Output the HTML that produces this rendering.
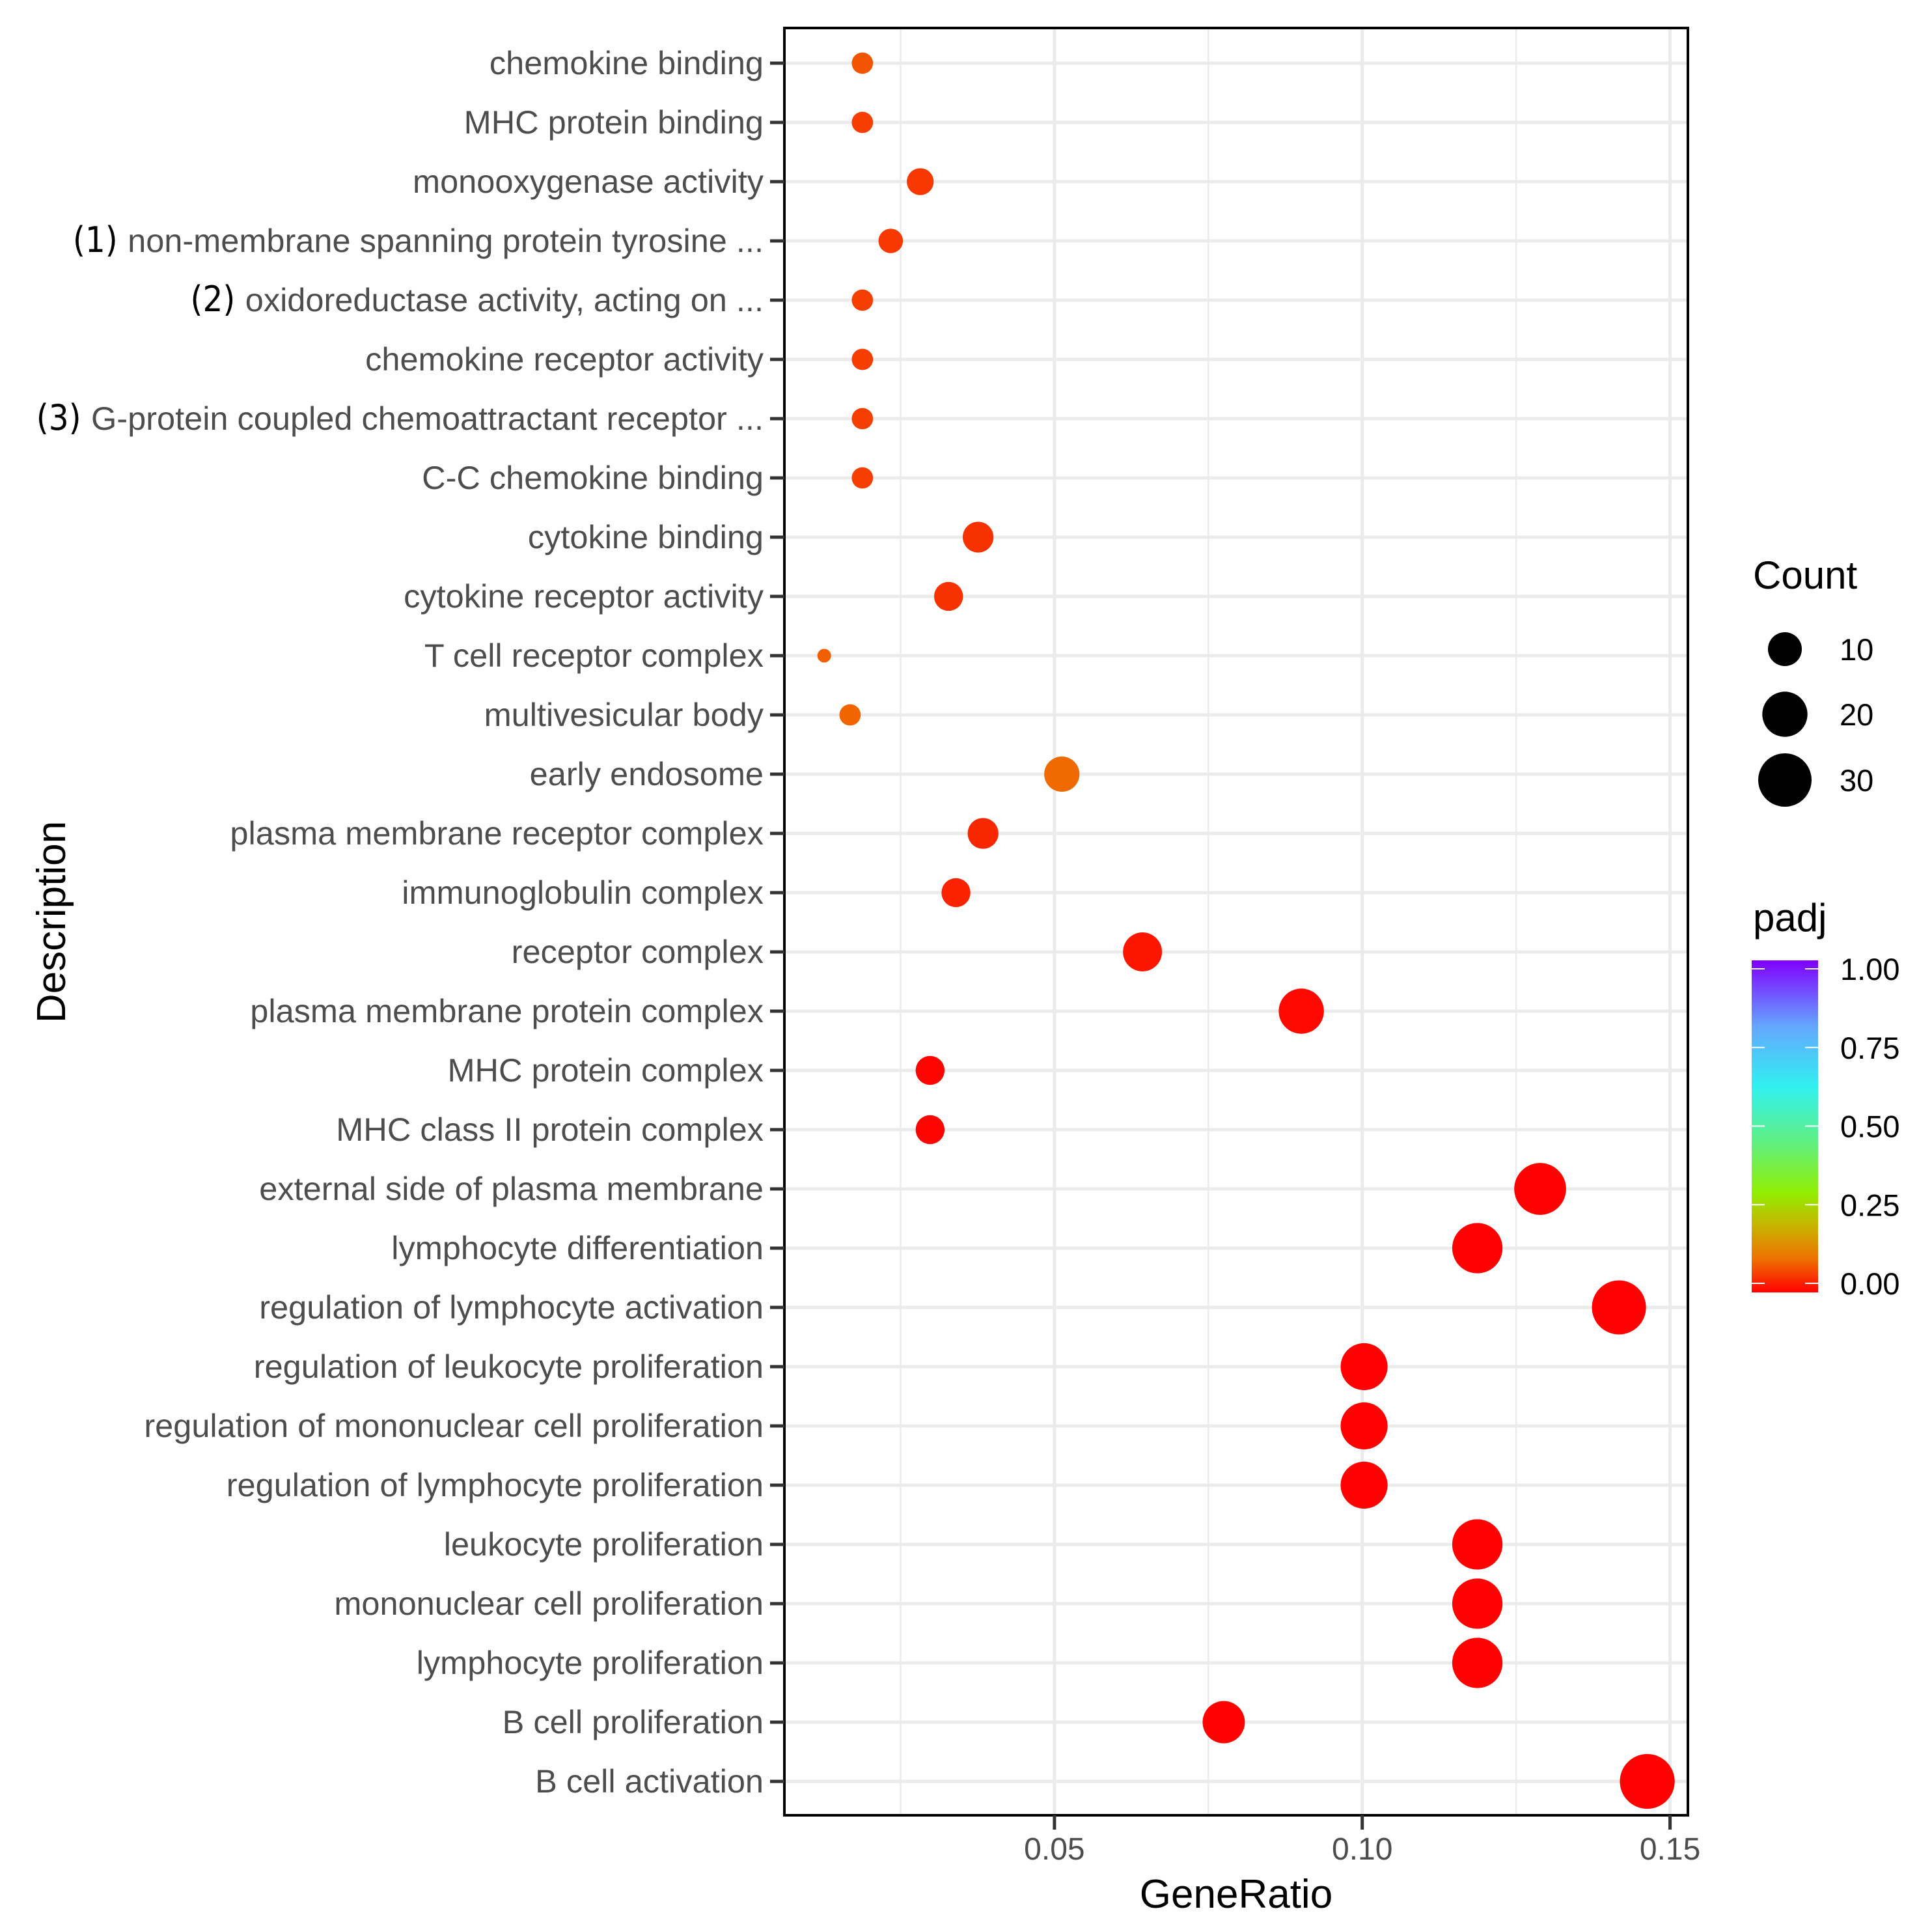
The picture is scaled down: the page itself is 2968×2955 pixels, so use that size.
<!DOCTYPE html>
<html><head><meta charset="utf-8"><style>
html,body{margin:0;padding:0;background:#fff;}
svg{display:block;font-family:"Liberation Sans",Arial,sans-serif;}
</style></head><body>
<svg id="chart" width="2968" height="2955" viewBox="0 0 2968 2955" xmlns="http://www.w3.org/2000/svg">
<defs>
<linearGradient id="padjGrad" x1="0" y1="1" x2="0" y2="0">
<stop offset="0" stop-color="#FF0000"/>
<stop offset="0.1" stop-color="#EE7000"/>
<stop offset="0.2" stop-color="#C8B400"/>
<stop offset="0.3" stop-color="#90EE00"/>
<stop offset="0.45" stop-color="#60F080"/>
<stop offset="0.62" stop-color="#30F0F0"/>
<stop offset="0.8" stop-color="#64A8FF"/>
<stop offset="1" stop-color="#8000FF"/>
</linearGradient>
</defs>
<g id="grid"></g>
<g id="marks"></g>
<g id="axes"></g>
<g id="legend"></g>
</svg>
<script>
const prefixes = ["","","","(1)","(2)","","(3)","","","","","","","","","","","","","","","","","","","","","","",""];
const categories = ["chemokine binding","MHC protein binding","monooxygenase activity","non-membrane spanning protein tyrosine ...","oxidoreductase activity, acting on ...","chemokine receptor activity","G-protein coupled chemoattractant receptor ...","C-C chemokine binding","cytokine binding","cytokine receptor activity","T cell receptor complex","multivesicular body","early endosome","plasma membrane receptor complex","immunoglobulin complex","receptor complex","plasma membrane protein complex","MHC protein complex","MHC class II protein complex","external side of plasma membrane","lymphocyte differentiation","regulation of lymphocyte activation","regulation of leukocyte proliferation","regulation of mononuclear cell proliferation","regulation of lymphocyte proliferation","leukocyte proliferation","mononuclear cell proliferation","lymphocyte proliferation","B cell proliferation","B cell activation"];
const geneRatio = [0.0188,0.0188,0.0282,0.0234,0.0188,0.0188,0.0188,0.0188,0.0376,0.0328,0.0126,0.0168,0.0512,0.0384,0.034,0.0643,0.0901,0.0298,0.0298,0.1289,0.1187,0.1417,0.1003,0.1003,0.1003,0.1187,0.1187,0.1187,0.0775,0.1463];
const counts = [4,4,6,5,4,4,4,4,8,7,3,4,11,8,7,14,20,7,7,28,26,31,22,22,22,26,26,26,17,32];
const padj = [0.075,0.055,0.05,0.05,0.055,0.055,0.055,0.055,0.045,0.045,0.085,0.09,0.095,0.035,0.03,0.02,0.008,0.004,0.004,0.0005,0.0005,0.0005,0.0005,0.0005,0.0005,0.0005,0.0005,0.0005,0.0005,0.0005];
const xTicks = [0.05,0.10,0.15];
const xTickLabels = ["0.05","0.10","0.15"];
const xMinor = [0.025,0.075,0.125];
const sizeBreaks = [10,20,30];
const padjBreaks = [0,0.25,0.5,0.75,1];
const padjLabels = ["0.00","0.25","0.50","0.75","1.00"];

const NS="http://www.w3.org/2000/svg";
const L=1205,R=2593,T=43,B=2788;
const xDomain=[0.00613,0.1529];
function xs(v){return L+(v-xDomain[0])/(xDomain[1]-xDomain[0])*(R-L);}
const rowTop=97,rowStep=(2736-97)/29;
function ys(i){return rowTop+i*rowStep;}
const cMin=Math.min(...counts),cMax=Math.max(...counts);
function rs(c){return 10.5+31.6*Math.sqrt(Math.max(0,(c-cMin)/(cMax-cMin)));}
const stops=[[0,[255,0,0]],[0.1,[238,112,0]],[0.2,[200,180,0]],[0.3,[144,238,0]],[0.45,[96,240,128]],[0.62,[48,240,240]],[0.8,[100,168,255]],[1,[128,0,255]]];
function cs(p){for(let k=1;k<stops.length;k++){if(p<=stops[k][0]){const a=stops[k-1],b=stops[k];const t=(p-a[0])/(b[0]-a[0]);const c=a[1].map((v,j)=>Math.round(v+(b[1][j]-v)*t));return `rgb(${c.join(",")})`;}}return "rgb(128,0,255)";}
function mk(tag,attrs,parent,text){const e=document.createElementNS(NS,tag);for(const k in attrs)e.setAttribute(k,attrs[k]);if(text!==undefined)e.textContent=text;parent.appendChild(e);return e;}

const grid=document.getElementById('grid'),marks=document.getElementById('marks'),axes=document.getElementById('axes'),legend=document.getElementById('legend');
mk('rect',{x:L,y:T,width:R-L,height:B-T,fill:'#fff'},grid);
xMinor.forEach(v=>{const e=mk('line',{x1:xs(v),x2:xs(v),y1:T,y2:B,stroke:'#EBEBEB','stroke-width':2.5},grid);

});
xTicks.forEach(v=>{const e=mk('line',{x1:xs(v),x2:xs(v),y1:T,y2:B,stroke:'#EBEBEB','stroke-width':5},grid);

});
categories.forEach((c,i)=>{const e=mk('line',{x1:L,x2:R,y1:ys(i),y2:ys(i),stroke:'#EBEBEB','stroke-width':5},grid);

});

categories.forEach((c,i)=>{const e=mk('circle',{cx:xs(geneRatio[i]),cy:ys(i),r:rs(counts[i]),fill:cs(padj[i])},marks);

});

const frame=mk('rect',{x:L,y:T,width:R-L,height:B-T,fill:'none',stroke:'#000','stroke-width':4},axes);


categories.forEach((c,i)=>{
 const tk=mk('line',{x1:1183,x2:L,y1:ys(i),y2:ys(i),stroke:'#333','stroke-width':5},axes);
 
 
 const t=mk('text',{x:1173,y:ys(i)+17,'text-anchor':'end','font-size':50.5,fill:'#4D4D4D'},axes);
 
 
 if(prefixes[i]){mk('tspan',{fill:'#000','font-size':54,'font-family':'DejaVu Sans Condensed, DejaVu Sans, sans-serif'},t,prefixes[i]+' ');}
 mk('tspan',{},t,c);
});
xTicks.forEach((v,i)=>{
 const tk=mk('line',{x1:xs(v),x2:xs(v),y1:B,y2:B+22,stroke:'#333','stroke-width':5},axes);
 
 
 const t=mk('text',{x:xs(v),y:2856,'text-anchor':'middle','font-size':48,fill:'#4D4D4D'},axes,xTickLabels[i]);
 
 
});
const xt=mk('text',{x:1899,y:2930,'text-anchor':'middle','font-size':62,fill:'#000'},axes,'GeneRatio');


const yt=mk('text',{x:0,y:0,transform:'translate(100,1416) rotate(-90)','text-anchor':'middle','font-size':62,fill:'#000'},axes,'Description');



const ct=mk('text',{x:2693,y:904,'font-size':60,fill:'#000'},legend,'Count');


const legY=[997,1097,1198];
sizeBreaks.forEach((b,i)=>{
 const c=mk('circle',{cx:2742,cy:legY[i],r:rs(b),fill:'#000'},legend);
 
 
 const t=mk('text',{x:2826,y:legY[i]+17,'font-size':47,fill:'#000'},legend,String(b));
 
 
});
const pt=mk('text',{x:2693,y:1430,'font-size':60,fill:'#000'},legend,'padj');


const barTop=1475,barBot=1985,bx=2691,bw=102;
const bar=mk('rect',{x:bx,y:barTop,width:bw,height:barBot-barTop,fill:'url(#padjGrad)'},legend);


const pTop=1488,pBot=1971;
padjBreaks.forEach((p,i)=>{
 const y=pBot-(pBot-pTop)*p;
 mk('line',{x1:bx,x2:bx+20,y1:y,y2:y,stroke:'#fff','stroke-width':2},legend);
 mk('line',{x1:bx+bw-20,x2:bx+bw,y1:y,y2:y,stroke:'#fff','stroke-width':2},legend);
 const t=mk('text',{x:2827,y:y+17,'font-size':47,fill:'#000'},legend,padjLabels[i]);
 
 
});
</script>
</body></html>
